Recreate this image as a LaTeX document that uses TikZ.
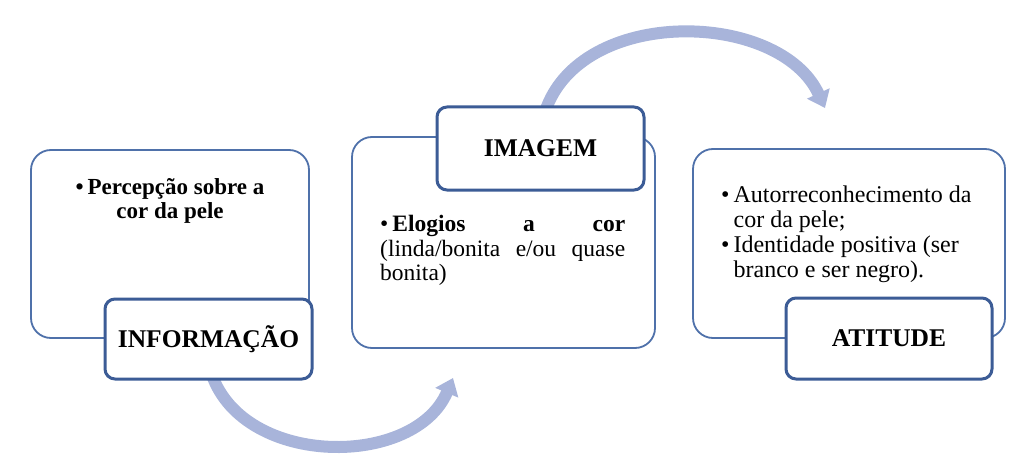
\documentclass[tikz,border=0pt]{standalone}
\usepackage{fontspec}
\setmainfont{Liberation Serif}
\usetikzlibrary{arrows.meta}
\definecolor{arcblue}{RGB}{168,180,218}
\definecolor{boxblue}{RGB}{79,113,170}
\definecolor{labblue}{RGB}{60,92,150}
\tikzset{
  bigbox/.style={draw=boxblue, line width=1.8pt, rounded corners=20pt, fill=white, inner sep=0pt},
  labbox/.style={draw=labblue, line width=3pt, rounded corners=10pt, fill=white, inner sep=0pt,
    font=\fontsize{25.5}{28}\selectfont\bfseries},
  bodytext/.style={inner sep=0pt, font=\fontsize{23.5}{24.5}\selectfont},
  cycarrow/.style={draw=arcblue, line width=12pt, -{Triangle[width=24pt,length=16pt]}}
}
\begin{document}
\begin{tikzpicture}[x=1pt,y=-1pt]
\useasboundingbox (0,0) rectangle (1031,476);
% arrows
\coordinate (a1s) at (212,375);
\coordinate (a1e) at (453,378);
\coordinate (a2s) at (545,112);
\coordinate (a2e) at (825,108);
\draw[cycarrow] (a1s) .. controls (245,468) and (415,468) .. (a1e);
\draw[cycarrow] (a2s) .. controls (580,5) and (780,10) .. (a2e);
% box 1
\node[bigbox, minimum width=278pt, minimum height=188pt] (b1) at (170,244) {};
\node[bodytext, font=\fontsize{23}{24.5}\selectfont\bfseries, align=center] (t1) at (170,201)
  {\textbullet\,Percepção sobre a\\cor da pele};
\node[labbox, minimum width=207pt, minimum height=80pt] (l1) at (208.5,339) {INFORMAÇÃO};
% box 2
\node[bigbox, minimum width=303pt, minimum height=211pt] (b2) at (503.5,242.5) {};
\node[labbox, minimum width=207pt, minimum height=83pt] (l2) at (540.5,148.5) {IMAGEM};
\node[bodytext, anchor=north west, text width=245pt, align=justify] (t2) at (380,215)
  {\hangindent=10pt\hangafter=1\textbullet\,\textbf{Elogios a cor}\linebreak (linda/bonita e/ou quase\linebreak bonita)};
% box 3
\node[bigbox, minimum width=312pt, minimum height=189pt] (b3) at (849,243.5) {};
\node[bodytext, font=\fontsize{24}{25}\selectfont, anchor=north west, align=left] (t3) at (721,185)
  {\begin{tabular}{@{}l@{\,}l@{}}\textbullet & Autorreconhecimento da\\ & cor da pele;\\ \textbullet & Identidade positiva (ser\\ & branco e ser negro).\end{tabular}};
\node[labbox, minimum width=206pt, minimum height=81pt] (l3) at (889,338.5) {ATITUDE};
\end{tikzpicture}
\end{document}
